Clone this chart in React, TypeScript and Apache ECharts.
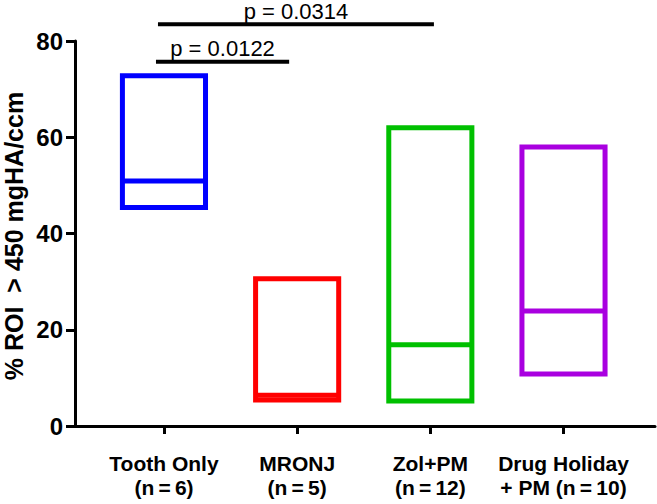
import React, { useEffect, useRef } from "react";
import * as echarts from "echarts";

const categories = [
  "Tooth Only\n(n\u2009=\u20096)",
  "MRONJ\n(n\u2009=\u20095)",
  "Zol+PM\n(n\u2009=\u200912)",
  "Drug Holiday\n+ PM (n\u2009=\u200910)",
];
const colors = ["#0000FF", "#FF0000", "#00C000", "#A900E0"];
const mins = [45.4, 5.4, 5.2, 10.8];
const medians = [50.9, 6.4, 16.9, 23.9];
const maxs = [72.8, 30.6, 62.0, 58.0];
const yTicks = [0, 20, 40, 60, 80];
const yName = "% ROI  > 450 mgHA/ccm";

const pLabels = ["p = 0.0122", "p = 0.0314"];
const pStart = [-0.06, -0.045];
const pEnd = [0.94, 2.027];
const pLevel = [75.7, 83.5];

const FONT = "'Liberation Sans', Arial, sans-serif";

export default function App() {
  const ref = useRef<HTMLDivElement>(null);
  useEffect(() => {
    if (!ref.current) return;
    const chart = echarts.init(ref.current, null, { renderer: "svg" });
    const boxData = categories.map((_, i) => [i, mins[i], medians[i], maxs[i]]);
    const bracketData = pLabels.map((_, i) => [pStart[i], pEnd[i], pLevel[i]]);
    const half = 0.312;
    chart.setOption({
      animation: false,
      backgroundColor: "#ffffff",
      grid: { left: 75, right: 2, top: 41, bottom: 78, containLabel: false, outerBoundsMode: "none" },
      graphic: [
        {
          type: "text",
          x: 14,
          y: 236,
          rotation: Math.PI / 2,
          style: {
            text: yName,
            fill: "#000",
            font: "bold 25px " + FONT,
            align: "center",
            verticalAlign: "middle",
          },
        },
      ],
      xAxis: {
        type: "value",
        min: -0.668,
        max: 3.687,
        splitLine: { show: false },
        axisLine: { show: true, onZero: false, lineStyle: { color: "#000", width: 3 } },
        axisTick: { show: true, customValues: [0, 1, 2, 3], length: 8, lineStyle: { color: "#000", width: 3 } },
        axisLabel: {
          customValues: [0, 1, 2, 3],
          formatter: (v: number) => categories[Math.round(v)] ?? "",
          color: "#000",
          fontFamily: FONT,
          fontWeight: "bold",
          fontSize: 21,
          lineHeight: 24.5,
          margin: 25,
        },
      },
      yAxis: {
        type: "value",
        min: 0,
        max: 80,
        interval: 20,
        splitLine: { show: false },
        axisLine: { show: true, onZero: false, lineStyle: { color: "#000", width: 3 } },
        axisTick: { show: true, length: 9, lineStyle: { color: "#000", width: 3 } },
        axisLabel: {
          formatter: (v: number) => (yTicks.includes(v) ? String(v) : ""),
          color: "#000",
          fontFamily: FONT,
          fontWeight: "bold",
          fontSize: 24,
          margin: 12,
        },
      },
      series: [
        {
          type: "custom",
          data: boxData,
          clip: false,
          renderItem: (params: any, api: any) => {
            const i = api.value(0);
            const tl = api.coord([i - half, api.value(3)]);
            const br = api.coord([i + half, api.value(1)]);
            const ml = api.coord([i - half, api.value(2)]);
            const mr = api.coord([i + half, api.value(2)]);
            const c = colors[params.dataIndex];
            return {
              type: "group",
              children: [
                {
                  type: "rect",
                  shape: { x: tl[0], y: tl[1], width: br[0] - tl[0], height: br[1] - tl[1] },
                  style: { fill: "none", stroke: c, lineWidth: 5 },
                },
                {
                  type: "line",
                  shape: { x1: ml[0], y1: ml[1], x2: mr[0], y2: mr[1] },
                  style: { stroke: c, lineWidth: 5 },
                },
              ],
            };
          },
        },
        {
          type: "custom",
          data: bracketData,
          clip: false,
          renderItem: (params: any, api: any) => {
            const a = api.coord([api.value(0), api.value(2)]);
            const b = api.coord([api.value(1), api.value(2)]);
            return {
              type: "group",
              children: [
                {
                  type: "line",
                  shape: { x1: a[0], y1: a[1], x2: b[0], y2: b[1] },
                  style: { stroke: "#000", lineWidth: 4 },
                },
                {
                  type: "text",
                  style: {
                    x: (a[0] + b[0]) / 2,
                    y: a[1] - 2,
                    text: pLabels[params.dataIndex],
                    fill: "#000",
                    font: "22px " + FONT,
                    lineHeight: 22,
                    align: "center",
                    verticalAlign: "bottom",
                  },
                },
              ],
            };
          },
        },
      ],
    });
    return () => chart.dispose();
  }, []);
  return <div ref={ref} style={{ position: "absolute", left: 0, top: 0, width: 657, height: 504 }} />;
}
